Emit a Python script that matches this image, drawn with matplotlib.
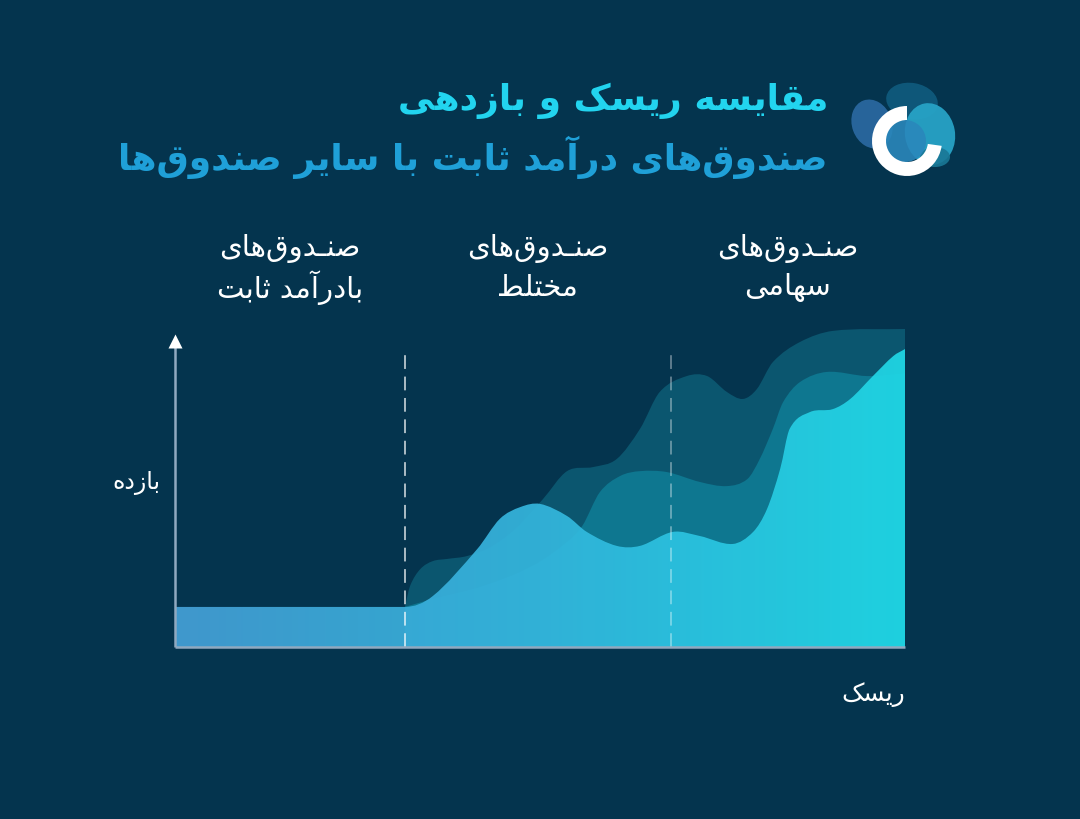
import numpy as np
import matplotlib
matplotlib.use("Agg")
import matplotlib.pyplot as plt
from matplotlib.path import Path
from matplotlib.patches import PathPatch, Wedge, Ellipse
from matplotlib.colors import LinearSegmentedColormap

# ---------------- data ----------------
title_line1 = "مقایسه ریسک و بازدهی"
title_line2 = "صندوق‌های درآمد ثابت با سایر صندوق‌ها"
category_line1 = ["صنـدوق‌های", "صنـدوق‌های", "صنـدوق‌های"]
category_line2 = ["بادرآمد ثابت", "مختلط", "سهامی"]
y_label = "بازده"
x_label = "ریسک"

zone_edges = [0.0, 31.5, 67.9, 100.0]      # risk zones (fixed income | mixed | equity)
base_return = 12.6                          # fixed-income flat return level

front_x = [0.0, 31.5, 35.3, 41.4, 44.5, 47.3, 50.0, 53.7, 56.4, 60.5, 63.7, 68.2, 71.9,
           76.4, 79.2, 81.1, 82.9, 84.2, 87.0, 90.1, 92.5, 95.6, 98.4, 100.0]
front_y = [base_return, base_return, 16.0, 30.8, 40.3, 44.0, 45.0, 41.2, 36.2, 31.8, 31.8,
           36.2, 34.9, 32.4, 36.2, 43.4, 56.0, 68.6, 73.9, 74.8, 78.0, 85.2, 91.5, 93.7]

middle_x = [31.5, 35.3, 42.2, 49.0, 53.7, 55.8, 58.2, 61.0, 63.7, 67.4, 71.9, 75.6, 78.4,
            80.1, 81.9, 83.3, 85.6, 89.3, 94.8, 100.0]
middle_y = [base_return, 15.1, 19.2, 25.5, 33.0, 38.1, 48.7, 53.8, 55.3, 55.0, 51.9, 50.6,
            52.8, 59.1, 68.6, 77.0, 83.3, 86.5, 85.2, 86.0]

back_x = [31.5, 32.2, 33.6, 35.3, 37.3, 40.0, 43.2, 46.6, 50.4, 53.7, 57.3, 60.5, 63.7,
          66.4, 70.1, 72.9, 75.6, 77.8, 79.7, 81.9, 85.6, 90.1, 100.0]
back_y = [base_return, 19.2, 24.5, 27.0, 27.7, 28.6, 31.4, 37.1, 46.5, 55.3, 56.6, 59.1,
          68.6, 80.2, 85.2, 85.2, 80.2, 78.0, 81.1, 89.6, 95.9, 99.4, 100.0]

# ---------------- colours ----------------
BG = "#04344e"
BACK_C = "#0b566f"
MID_C = "#0e7790"
FRONT_LEFT = "#45a0d7"
FRONT_RIGHT = "#20d8e6"
AXIS_C = "#8fa9c0"

# ---------------- Persian shaping helper ----------------
FORMS = {
    '\u0622': ('\uFE81', '\uFE82', None, None),
    '\u0627': ('\uFE8D', '\uFE8E', None, None),
    '\u0628': ('\uFE8F', '\uFE90', '\uFE91', '\uFE92'),
    '\u062A': ('\uFE95', '\uFE96', '\uFE97', '\uFE98'),
    '\u062B': ('\uFE99', '\uFE9A', '\uFE9B', '\uFE9C'),
    '\u062E': ('\uFEA5', '\uFEA6', '\uFEA7', '\uFEA8'),
    '\u062F': ('\uFEA9', '\uFEAA', None, None),
    '\u0631': ('\uFEAD', '\uFEAE', None, None),
    '\u0632': ('\uFEAF', '\uFEB0', None, None),
    '\u0633': ('\uFEB1', '\uFEB2', '\uFEB3', '\uFEB4'),
    '\u0635': ('\uFEB9', '\uFEBA', '\uFEBB', '\uFEBC'),
    '\u0637': ('\uFEC1', '\uFEC2', '\uFEC3', '\uFEC4'),
    '\u0642': ('\uFED5', '\uFED6', '\uFED7', '\uFED8'),
    '\u06A9': ('\uFB8E', '\uFB8F', '\uFB90', '\uFB91'),
    '\u0644': ('\uFEDD', '\uFEDE', '\uFEDF', '\uFEE0'),
    '\u0645': ('\uFEE1', '\uFEE2', '\uFEE3', '\uFEE4'),
    '\u0646': ('\uFEE5', '\uFEE6', '\uFEE7', '\uFEE8'),
    '\u0647': ('\uFEE9', '\uFEEA', '\uFEEB', '\uFEEC'),
    '\u0648': ('\uFEED', '\uFEEE', None, None),
    '\u06CC': ('\uFBFC', '\uFBFD', '\uFBFE', '\uFBFF'),
}
TATWEEL = '\u0640'


def _joins_next(c):
    return c == TATWEEL or (c in FORMS and FORMS[c][2] is not None)


def _joinable(c):
    return c == TATWEEL or c in FORMS


def fa(s):
    out = []
    n = len(s)
    for i, c in enumerate(s):
        if c == '\u200c':
            continue
        if c not in FORMS:
            out.append(c)
            continue
        prev = s[i - 1] if i > 0 else ''
        nxt = s[i + 1] if i + 1 < n else ''
        cp = prev != '' and _joins_next(prev)
        cn = nxt != '' and _joinable(nxt) and FORMS[c][2] is not None
        iso, fin, ini, med = FORMS[c]
        if cp and cn:
            g = med
        elif cp:
            g = fin
        elif cn:
            g = ini
        else:
            g = iso
        out.append(g)
    return ''.join(reversed(out))


def smooth_area(xs, ys):
    """Closed area path under a smooth Hermite curve through (xs, ys)."""
    xs = np.asarray(xs, float)
    ys = np.asarray(ys, float)
    n = len(xs)
    m = np.zeros(n)
    for i in range(n):
        if i == 0:
            m[i] = (ys[1] - ys[0]) / (xs[1] - xs[0])
        elif i == n - 1:
            m[i] = (ys[-1] - ys[-2]) / (xs[-1] - xs[-2])
        else:
            m[i] = (ys[i + 1] - ys[i - 1]) / (xs[i + 1] - xs[i - 1])
    # a flat leading segment (the fixed-income band) stays flat
    if ys[0] == ys[1]:
        m[0] = 0.0
        m[1] = 0.0
    verts = [(xs[0], 0.0), (xs[0], ys[0])]
    codes = [Path.MOVETO, Path.LINETO]
    for i in range(n - 1):
        h = xs[i + 1] - xs[i]
        verts += [(xs[i] + h / 3, ys[i] + m[i] * h / 3),
                  (xs[i + 1] - h / 3, ys[i + 1] - m[i + 1] * h / 3),
                  (xs[i + 1], ys[i + 1])]
        codes += [Path.CURVE4] * 3
    verts += [(xs[-1], 0.0), (xs[0], 0.0)]
    codes += [Path.LINETO, Path.CLOSEPOLY]
    return Path(verts, codes)


# ---------------- figure ----------------
W, H, DPI = 1080, 820, 100
fig = plt.figure(figsize=(W / DPI, H / DPI), dpi=DPI, facecolor=BG)


def px_box(x0, y0, x1, y1):
    return [x0 / W, 1 - y1 / H, (x1 - x0) / W, (y1 - y0) / H]


ax = fig.add_axes(px_box(175, 330, 905, 648))
ax.set_xlim(0, 100)
ax.set_ylim(0, 100)
ax.axis("off")
ax.patch.set_alpha(0)

# back layer
ax.add_patch(PathPatch(smooth_area(back_x, back_y), facecolor=BACK_C, edgecolor="none", zorder=1))
# middle layer
ax.add_patch(PathPatch(smooth_area(middle_x, middle_y), facecolor=MID_C, edgecolor="none", zorder=2))
# front layer with gradient
front_patch = PathPatch(smooth_area(front_x, front_y), facecolor="none", edgecolor="none", zorder=3)
ax.add_patch(front_patch)
cmap = LinearSegmentedColormap.from_list("front", [FRONT_LEFT, "#34b6dd", FRONT_RIGHT])
grad = np.linspace(0, 1, 256).reshape(1, -1)
im = ax.imshow(grad, cmap=cmap, extent=[0, 100, 0, 100], aspect="auto",
               zorder=3, alpha=0.93, interpolation="bicubic")
im.set_clip_path(front_patch)

# zone dividers
for xe, a in zip(zone_edges[1:-1], [0.85, 0.45]):
    ax.plot([xe, xe], [0, 93.7], color="white", lw=1.1, alpha=a,
            dashes=(9, 5), zorder=5, clip_on=False)

# axes lines
ax.plot([0, 0], [0, 95.5], color=AXIS_C, lw=1.8, zorder=6, clip_on=False, solid_capstyle="butt")
ax.plot([0, 100], [0, 0], color=AXIS_C, lw=1.8, zorder=6, clip_on=False, solid_capstyle="butt")
ax.plot([0], [96.3], marker="^", ms=10, color="white", mec="none", zorder=7, clip_on=False)

# axis labels
ax.text(-2.0, 52, fa(y_label), ha="right", va="center", color="white",
        fontsize=17, family="DejaVu Sans")
ax.text(100, -14.5, fa(x_label), ha="right", va="center", color="white",
        fontsize=18, family="DejaVu Sans")

# category headers
for i in range(3):
    cx = (zone_edges[i] + zone_edges[i + 1]) / 2
    ax.text(cx, 125.5, fa(category_line1[i]), ha="center", va="center",
            color="white", fontsize=21, family="DejaVu Sans", clip_on=False)
    ax.text(cx, 113.3, fa(category_line2[i]), ha="center", va="center",
            color="white", fontsize=21, family="DejaVu Sans", clip_on=False)

# titles
fig.text(828 / W, 1 - 101 / H, fa(title_line1), ha="right", va="center",
         color="#22d4ef", fontsize=26, fontweight="bold", family="DejaVu Sans")
fig.text(828 / W, 1 - 157 / H, fa(title_line2), ha="right", va="center",
         color="#1fa0d8", fontsize=26, fontweight="bold", family="DejaVu Sans")

# logo
lax = fig.add_axes(px_box(845, 75, 965, 185))
lax.set_xlim(845, 965)
lax.set_ylim(H - 185, H - 75)
lax.set_aspect("equal")
lax.axis("off")


def P(x, y):
    return (x, H - y)


lax.add_patch(Ellipse(P(872, 125), 40, 50, angle=20, color="#2c6aa3", alpha=0.9, lw=0))
lax.add_patch(Ellipse(P(912, 102), 52, 36, angle=-10, color="#0f5a7c", alpha=0.95, lw=0))
lax.add_patch(Ellipse(P(930, 135), 50, 62, angle=10, color="#27a3c6", alpha=0.95, lw=0))
lax.add_patch(Ellipse(P(935, 158), 30, 20, angle=0, color="#1a7896", alpha=0.9, lw=0))
lax.add_patch(Ellipse(P(905, 142), 42, 42, color="#2a87bb", alpha=0.9, lw=0))
lax.add_patch(Wedge(P(907, 142), 35, 90, 352, width=14, color="white", lw=0))

fig.savefig("out.png", dpi=DPI, facecolor=BG)
